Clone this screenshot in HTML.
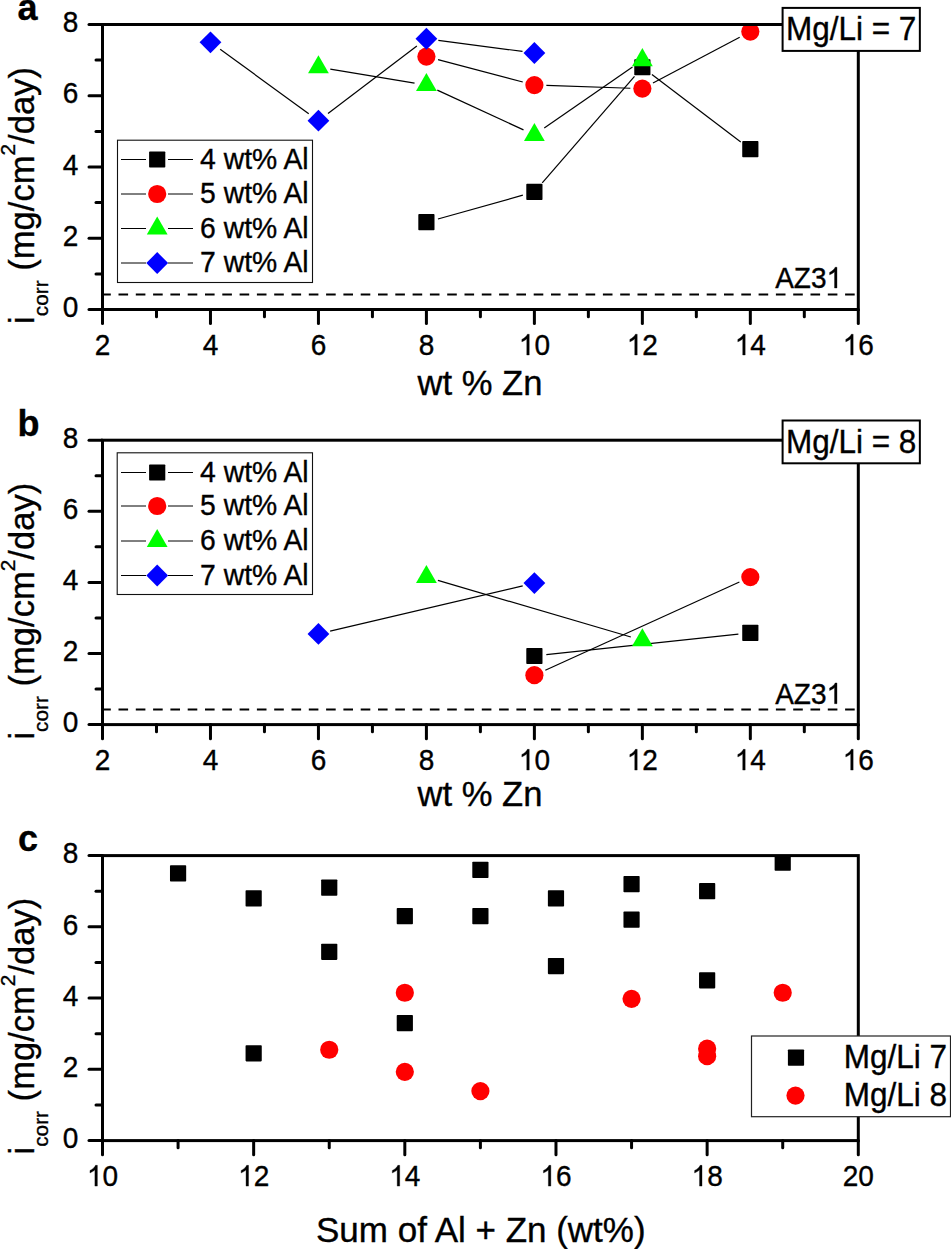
<!DOCTYPE html>
<html><head><meta charset="utf-8"><title>i_corr vs composition</title><style>
html,body{margin:0;padding:0;background:#fff;overflow:hidden;}
svg{display:block;}
text{font-family:"Liberation Sans",sans-serif;fill:#000;stroke:#000;stroke-width:0.35px;}
</style></head><body>
<svg width="951" height="1249" viewBox="0 0 951 1249">
<rect width="951" height="1249" fill="#fff"/>
<g id="panel-a">
<line x1="101.2" y1="294.50" x2="857" y2="294.50" stroke="#000" stroke-width="2" stroke-dasharray="9.6 7.7"/>
<text transform="translate(775.2 288.00) scale(1 1.07)" font-size="28">AZ3&#8199;</text>
<path transform="translate(826.55 288.00) scale(0.01367 -0.01415)" stroke="#000" stroke-width="25" d="M763,0L583,0L583,1147Q518,1085 413,1023Q309,961 223,930L223,1104Q367,1172 475,1267Q583,1362 628,1466L763,1466Z"/>
<clipPath id="clip0"><rect x="102.5" y="24.5" width="755.8" height="285.0"/></clipPath><g clip-path="url(#clip0)">
<g stroke="#000" stroke-width="1.2" fill="none"><line x1="437.97" y1="218.98" x2="522.83" y2="195.18"/><line x1="542.24" y1="182.87" x2="634.50" y2="76.32"/><line x1="651.92" y1="74.50" x2="740.77" y2="141.93"/></g>
<rect x="418.31" y="214.12" width="16.20" height="16.20" rx="0.8" fill="#000"/><rect x="526.29" y="183.84" width="16.20" height="16.20" rx="0.8" fill="#000"/><rect x="634.26" y="59.15" width="16.20" height="16.20" rx="0.8" fill="#000"/><rect x="742.23" y="141.09" width="16.20" height="16.20" rx="0.8" fill="#000"/>
<g stroke="#000" stroke-width="1.2" fill="none"><line x1="438.02" y1="59.63" x2="522.78" y2="82.00"/><line x1="546.38" y1="85.46" x2="630.36" y2="88.23"/><line x1="652.97" y1="83.02" x2="739.72" y2="37.23"/></g>
<circle cx="426.41" cy="56.56" r="9.1" fill="#f00"/><circle cx="534.39" cy="85.06" r="9.1" fill="#f00"/><circle cx="642.36" cy="88.62" r="9.1" fill="#f00"/><circle cx="750.33" cy="31.62" r="9.1" fill="#f00"/>
<g stroke="#000" stroke-width="1.2" fill="none"><line x1="330.28" y1="69.20" x2="414.57" y2="83.11"/><line x1="437.31" y1="90.09" x2="523.49" y2="129.91"/><line x1="544.25" y1="128.10" x2="632.49" y2="66.96"/></g>
<path d="M318.44,55.24L308.04,73.25L328.84,73.25Z" fill="#0f0"/><path d="M426.41,73.05L416.01,91.07L436.81,91.07Z" fill="#0f0"/><path d="M534.39,122.93L523.99,140.94L544.79,140.94Z" fill="#0f0"/><path d="M642.36,48.12L631.96,66.13L652.76,66.13Z" fill="#0f0"/>
<g stroke="#000" stroke-width="1.2" fill="none"><line x1="220.18" y1="49.36" x2="308.73" y2="113.64"/><line x1="328.00" y1="113.43" x2="416.86" y2="46.00"/><line x1="438.31" y1="40.32" x2="522.49" y2="51.43"/></g>
<path d="M210.47,31.41L221.37,42.31L210.47,53.21L199.57,42.31Z" fill="#00f"/><path d="M318.44,109.79L329.34,120.69L318.44,131.59L307.54,120.69Z" fill="#00f"/><path d="M426.41,27.85L437.31,38.75L426.41,49.65L415.51,38.75Z" fill="#00f"/><path d="M534.39,42.10L545.29,53.00L534.39,63.90L523.49,53.00Z" fill="#00f"/>
</g>
<rect x="102.5" y="24.5" width="755.8" height="285.0" fill="none" stroke="#000" stroke-width="3"/>
<g stroke="#000" stroke-width="3" stroke-linecap="round"><line x1="89" y1="309.50" x2="102.5" y2="309.50"/><line x1="96" y1="273.88" x2="102.5" y2="273.88"/><line x1="89" y1="238.25" x2="102.5" y2="238.25"/><line x1="96" y1="202.62" x2="102.5" y2="202.62"/><line x1="89" y1="167.00" x2="102.5" y2="167.00"/><line x1="96" y1="131.38" x2="102.5" y2="131.38"/><line x1="89" y1="95.75" x2="102.5" y2="95.75"/><line x1="96" y1="60.12" x2="102.5" y2="60.12"/><line x1="89" y1="24.50" x2="102.5" y2="24.50"/><line x1="102.50" y1="309.5" x2="102.50" y2="323.60"/><line x1="210.47" y1="309.5" x2="210.47" y2="323.60"/><line x1="318.44" y1="309.5" x2="318.44" y2="323.60"/><line x1="426.41" y1="309.5" x2="426.41" y2="323.60"/><line x1="534.39" y1="309.5" x2="534.39" y2="323.60"/><line x1="642.36" y1="309.5" x2="642.36" y2="323.60"/><line x1="750.33" y1="309.5" x2="750.33" y2="323.60"/><line x1="858.30" y1="309.5" x2="858.30" y2="323.60"/><line x1="156.49" y1="309.5" x2="156.49" y2="316.70"/><line x1="264.46" y1="309.5" x2="264.46" y2="316.70"/><line x1="372.43" y1="309.5" x2="372.43" y2="316.70"/><line x1="480.40" y1="309.5" x2="480.40" y2="316.70"/><line x1="588.37" y1="309.5" x2="588.37" y2="316.70"/><line x1="696.34" y1="309.5" x2="696.34" y2="316.70"/><line x1="804.31" y1="309.5" x2="804.31" y2="316.70"/></g>
<text transform="translate(78.40 317.20) scale(1 1.08)" font-size="28" text-anchor="end">0</text><text transform="translate(78.40 245.95) scale(1 1.08)" font-size="28" text-anchor="end">2</text><text transform="translate(78.40 174.70) scale(1 1.08)" font-size="28" text-anchor="end">4</text><text transform="translate(78.40 103.45) scale(1 1.08)" font-size="28" text-anchor="end">6</text><text transform="translate(78.40 32.20) scale(1 1.08)" font-size="28" text-anchor="end">8</text><text transform="translate(102.50 355.00) scale(1 1.08)" font-size="28" text-anchor="middle">2</text><text transform="translate(210.47 355.00) scale(1 1.08)" font-size="28" text-anchor="middle">4</text><text transform="translate(318.44 355.00) scale(1 1.08)" font-size="28" text-anchor="middle">6</text><text transform="translate(426.41 355.00) scale(1 1.08)" font-size="28" text-anchor="middle">8</text><text transform="translate(534.39 355.00) scale(1 1.08)" font-size="28" text-anchor="middle">&#8199;0</text><path transform="translate(518.81 355.00) scale(0.01367 -0.01415)" stroke="#000" stroke-width="25" d="M763,0L583,0L583,1147Q518,1085 413,1023Q309,961 223,930L223,1104Q367,1172 475,1267Q583,1362 628,1466L763,1466Z"/><text transform="translate(642.36 355.00) scale(1 1.08)" font-size="28" text-anchor="middle">&#8199;2</text><path transform="translate(626.78 355.00) scale(0.01367 -0.01415)" stroke="#000" stroke-width="25" d="M763,0L583,0L583,1147Q518,1085 413,1023Q309,961 223,930L223,1104Q367,1172 475,1267Q583,1362 628,1466L763,1466Z"/><text transform="translate(750.33 355.00) scale(1 1.08)" font-size="28" text-anchor="middle">&#8199;4</text><path transform="translate(734.76 355.00) scale(0.01367 -0.01415)" stroke="#000" stroke-width="25" d="M763,0L583,0L583,1147Q518,1085 413,1023Q309,961 223,930L223,1104Q367,1172 475,1267Q583,1362 628,1466L763,1466Z"/><text transform="translate(858.30 355.00) scale(1 1.08)" font-size="28" text-anchor="middle">&#8199;6</text><path transform="translate(842.73 355.00) scale(0.01367 -0.01415)" stroke="#000" stroke-width="25" d="M763,0L583,0L583,1147Q518,1085 413,1023Q309,961 223,930L223,1104Q367,1172 475,1267Q583,1362 628,1466L763,1466Z"/>
<text transform="translate(33.9 323.9) rotate(-90)" font-size="34.6">i<tspan font-size="20.8" dy="13.7">corr</tspan><tspan dy="-13.7"> (mg/cm</tspan><tspan font-size="20.8" dy="-18.8">2</tspan><tspan dy="18.8">/day)</tspan></text>
<text x="17.5" y="19.9" font-size="36" font-weight="bold">a</text>
</g>
<g id="panel-b">
<line x1="101.2" y1="709.60" x2="857" y2="709.60" stroke="#000" stroke-width="2" stroke-dasharray="9.6 7.7"/>
<text transform="translate(775.2 703.70) scale(1 1.07)" font-size="28">AZ3&#8199;</text>
<path transform="translate(826.55 703.70) scale(0.01367 -0.01415)" stroke="#000" stroke-width="25" d="M763,0L583,0L583,1147Q518,1085 413,1023Q309,961 223,930L223,1104Q367,1172 475,1267Q583,1362 628,1466L763,1466Z"/>
<clipPath id="clip1"><rect x="102.5" y="440.2" width="755.8" height="284.4"/></clipPath><g clip-path="url(#clip1)">
<g stroke="#000" stroke-width="1.2" fill="none"><line x1="546.32" y1="654.71" x2="738.40" y2="634.16"/></g>
<rect x="526.29" y="647.89" width="16.20" height="16.20" rx="0.8" fill="#000"/><rect x="742.23" y="624.78" width="16.20" height="16.20" rx="0.8" fill="#000"/>
<g stroke="#000" stroke-width="1.2" fill="none"><line x1="545.31" y1="670.22" x2="739.40" y2="582.03"/></g>
<circle cx="534.39" cy="675.19" r="9.1" fill="#f00"/><circle cx="750.33" cy="577.07" r="9.1" fill="#f00"/>
<g stroke="#000" stroke-width="1.2" fill="none"><line x1="437.93" y1="580.44" x2="630.84" y2="636.97"/></g>
<path d="M426.41,565.06L416.01,583.07L436.81,583.07Z" fill="#0f0"/><path d="M642.36,628.34L631.96,646.35L652.76,646.35Z" fill="#0f0"/>
<g stroke="#000" stroke-width="1.2" fill="none"><line x1="330.12" y1="631.20" x2="522.71" y2="585.86"/></g>
<path d="M318.44,623.05L329.34,633.95L318.44,644.85L307.54,633.95Z" fill="#00f"/><path d="M534.39,572.21L545.29,583.11L534.39,594.01L523.49,583.11Z" fill="#00f"/>
</g>
<rect x="102.5" y="440.2" width="755.8" height="284.4" fill="none" stroke="#000" stroke-width="3"/>
<g stroke="#000" stroke-width="3" stroke-linecap="round"><line x1="89" y1="724.60" x2="102.5" y2="724.60"/><line x1="96" y1="689.05" x2="102.5" y2="689.05"/><line x1="89" y1="653.50" x2="102.5" y2="653.50"/><line x1="96" y1="617.95" x2="102.5" y2="617.95"/><line x1="89" y1="582.40" x2="102.5" y2="582.40"/><line x1="96" y1="546.85" x2="102.5" y2="546.85"/><line x1="89" y1="511.30" x2="102.5" y2="511.30"/><line x1="96" y1="475.75" x2="102.5" y2="475.75"/><line x1="89" y1="440.20" x2="102.5" y2="440.20"/><line x1="102.50" y1="724.6" x2="102.50" y2="738.70"/><line x1="210.47" y1="724.6" x2="210.47" y2="738.70"/><line x1="318.44" y1="724.6" x2="318.44" y2="738.70"/><line x1="426.41" y1="724.6" x2="426.41" y2="738.70"/><line x1="534.39" y1="724.6" x2="534.39" y2="738.70"/><line x1="642.36" y1="724.6" x2="642.36" y2="738.70"/><line x1="750.33" y1="724.6" x2="750.33" y2="738.70"/><line x1="858.30" y1="724.6" x2="858.30" y2="738.70"/><line x1="156.49" y1="724.6" x2="156.49" y2="731.80"/><line x1="264.46" y1="724.6" x2="264.46" y2="731.80"/><line x1="372.43" y1="724.6" x2="372.43" y2="731.80"/><line x1="480.40" y1="724.6" x2="480.40" y2="731.80"/><line x1="588.37" y1="724.6" x2="588.37" y2="731.80"/><line x1="696.34" y1="724.6" x2="696.34" y2="731.80"/><line x1="804.31" y1="724.6" x2="804.31" y2="731.80"/></g>
<text transform="translate(78.40 732.30) scale(1 1.08)" font-size="28" text-anchor="end">0</text><text transform="translate(78.40 661.20) scale(1 1.08)" font-size="28" text-anchor="end">2</text><text transform="translate(78.40 590.10) scale(1 1.08)" font-size="28" text-anchor="end">4</text><text transform="translate(78.40 519.00) scale(1 1.08)" font-size="28" text-anchor="end">6</text><text transform="translate(78.40 447.90) scale(1 1.08)" font-size="28" text-anchor="end">8</text><text transform="translate(102.50 770.10) scale(1 1.08)" font-size="28" text-anchor="middle">2</text><text transform="translate(210.47 770.10) scale(1 1.08)" font-size="28" text-anchor="middle">4</text><text transform="translate(318.44 770.10) scale(1 1.08)" font-size="28" text-anchor="middle">6</text><text transform="translate(426.41 770.10) scale(1 1.08)" font-size="28" text-anchor="middle">8</text><text transform="translate(534.39 770.10) scale(1 1.08)" font-size="28" text-anchor="middle">&#8199;0</text><path transform="translate(518.81 770.10) scale(0.01367 -0.01415)" stroke="#000" stroke-width="25" d="M763,0L583,0L583,1147Q518,1085 413,1023Q309,961 223,930L223,1104Q367,1172 475,1267Q583,1362 628,1466L763,1466Z"/><text transform="translate(642.36 770.10) scale(1 1.08)" font-size="28" text-anchor="middle">&#8199;2</text><path transform="translate(626.78 770.10) scale(0.01367 -0.01415)" stroke="#000" stroke-width="25" d="M763,0L583,0L583,1147Q518,1085 413,1023Q309,961 223,930L223,1104Q367,1172 475,1267Q583,1362 628,1466L763,1466Z"/><text transform="translate(750.33 770.10) scale(1 1.08)" font-size="28" text-anchor="middle">&#8199;4</text><path transform="translate(734.76 770.10) scale(0.01367 -0.01415)" stroke="#000" stroke-width="25" d="M763,0L583,0L583,1147Q518,1085 413,1023Q309,961 223,930L223,1104Q367,1172 475,1267Q583,1362 628,1466L763,1466Z"/><text transform="translate(858.30 770.10) scale(1 1.08)" font-size="28" text-anchor="middle">&#8199;6</text><path transform="translate(842.73 770.10) scale(0.01367 -0.01415)" stroke="#000" stroke-width="25" d="M763,0L583,0L583,1147Q518,1085 413,1023Q309,961 223,930L223,1104Q367,1172 475,1267Q583,1362 628,1466L763,1466Z"/>
<text transform="translate(33.9 739.6) rotate(-90)" font-size="34.6">i<tspan font-size="20.8" dy="13.7">corr</tspan><tspan dy="-13.7"> (mg/cm</tspan><tspan font-size="20.8" dy="-18.8">2</tspan><tspan dy="18.8">/day)</tspan></text>
<text x="17.5" y="435.6" font-size="36" font-weight="bold">b</text>
</g>
<g id="panel-c">
<clipPath id="clip2"><rect x="102.5" y="855.6" width="755.8" height="285.0"/></clipPath><g clip-path="url(#clip2)">
<rect x="245.56" y="1045.22" width="16.20" height="16.20" rx="0.8" fill="#000"/><rect x="396.72" y="1014.94" width="16.20" height="16.20" rx="0.8" fill="#000"/><rect x="547.88" y="890.25" width="16.20" height="16.20" rx="0.8" fill="#000"/><rect x="699.04" y="972.19" width="16.20" height="16.20" rx="0.8" fill="#000"/><rect x="321.14" y="879.56" width="16.20" height="16.20" rx="0.8" fill="#000"/><rect x="472.30" y="908.06" width="16.20" height="16.20" rx="0.8" fill="#000"/><rect x="623.46" y="911.62" width="16.20" height="16.20" rx="0.8" fill="#000"/><rect x="774.62" y="854.62" width="16.20" height="16.20" rx="0.8" fill="#000"/><rect x="245.56" y="890.25" width="16.20" height="16.20" rx="0.8" fill="#000"/><rect x="396.72" y="908.06" width="16.20" height="16.20" rx="0.8" fill="#000"/><rect x="547.88" y="957.94" width="16.20" height="16.20" rx="0.8" fill="#000"/><rect x="699.04" y="883.12" width="16.20" height="16.20" rx="0.8" fill="#000"/><rect x="169.98" y="865.31" width="16.20" height="16.20" rx="0.8" fill="#000"/><rect x="321.14" y="943.69" width="16.20" height="16.20" rx="0.8" fill="#000"/><rect x="472.30" y="861.75" width="16.20" height="16.20" rx="0.8" fill="#000"/><rect x="623.46" y="876.00" width="16.20" height="16.20" rx="0.8" fill="#000"/>
<circle cx="404.82" cy="1071.84" r="9.1" fill="#f00"/><circle cx="707.14" cy="1048.69" r="9.1" fill="#f00"/><circle cx="480.40" cy="1091.08" r="9.1" fill="#f00"/><circle cx="782.72" cy="992.76" r="9.1" fill="#f00"/><circle cx="404.82" cy="992.76" r="9.1" fill="#f00"/><circle cx="707.14" cy="1056.17" r="9.1" fill="#f00"/><circle cx="329.24" cy="1049.76" r="9.1" fill="#f00"/><circle cx="631.56" cy="998.81" r="9.1" fill="#f00"/>
</g>
<rect x="102.5" y="855.6" width="755.8" height="285.0" fill="none" stroke="#000" stroke-width="3"/>
<g stroke="#000" stroke-width="3" stroke-linecap="round"><line x1="89" y1="1140.60" x2="102.5" y2="1140.60"/><line x1="96" y1="1104.97" x2="102.5" y2="1104.97"/><line x1="89" y1="1069.35" x2="102.5" y2="1069.35"/><line x1="96" y1="1033.72" x2="102.5" y2="1033.72"/><line x1="89" y1="998.10" x2="102.5" y2="998.10"/><line x1="96" y1="962.47" x2="102.5" y2="962.47"/><line x1="89" y1="926.85" x2="102.5" y2="926.85"/><line x1="96" y1="891.23" x2="102.5" y2="891.23"/><line x1="89" y1="855.60" x2="102.5" y2="855.60"/><line x1="102.50" y1="1140.6" x2="102.50" y2="1154.70"/><line x1="253.66" y1="1140.6" x2="253.66" y2="1154.70"/><line x1="404.82" y1="1140.6" x2="404.82" y2="1154.70"/><line x1="555.98" y1="1140.6" x2="555.98" y2="1154.70"/><line x1="707.14" y1="1140.6" x2="707.14" y2="1154.70"/><line x1="858.30" y1="1140.6" x2="858.30" y2="1154.70"/><line x1="178.08" y1="1140.6" x2="178.08" y2="1147.80"/><line x1="329.24" y1="1140.6" x2="329.24" y2="1147.80"/><line x1="480.40" y1="1140.6" x2="480.40" y2="1147.80"/><line x1="631.56" y1="1140.6" x2="631.56" y2="1147.80"/><line x1="782.72" y1="1140.6" x2="782.72" y2="1147.80"/></g>
<text transform="translate(78.40 1148.30) scale(1 1.08)" font-size="28" text-anchor="end">0</text><text transform="translate(78.40 1077.05) scale(1 1.08)" font-size="28" text-anchor="end">2</text><text transform="translate(78.40 1005.80) scale(1 1.08)" font-size="28" text-anchor="end">4</text><text transform="translate(78.40 934.55) scale(1 1.08)" font-size="28" text-anchor="end">6</text><text transform="translate(78.40 863.30) scale(1 1.08)" font-size="28" text-anchor="end">8</text><text transform="translate(102.50 1186.10) scale(1 1.08)" font-size="28" text-anchor="middle">&#8199;0</text><path transform="translate(86.93 1186.10) scale(0.01367 -0.01415)" stroke="#000" stroke-width="25" d="M763,0L583,0L583,1147Q518,1085 413,1023Q309,961 223,930L223,1104Q367,1172 475,1267Q583,1362 628,1466L763,1466Z"/><text transform="translate(253.66 1186.10) scale(1 1.08)" font-size="28" text-anchor="middle">&#8199;2</text><path transform="translate(238.09 1186.10) scale(0.01367 -0.01415)" stroke="#000" stroke-width="25" d="M763,0L583,0L583,1147Q518,1085 413,1023Q309,961 223,930L223,1104Q367,1172 475,1267Q583,1362 628,1466L763,1466Z"/><text transform="translate(404.82 1186.10) scale(1 1.08)" font-size="28" text-anchor="middle">&#8199;4</text><path transform="translate(389.25 1186.10) scale(0.01367 -0.01415)" stroke="#000" stroke-width="25" d="M763,0L583,0L583,1147Q518,1085 413,1023Q309,961 223,930L223,1104Q367,1172 475,1267Q583,1362 628,1466L763,1466Z"/><text transform="translate(555.98 1186.10) scale(1 1.08)" font-size="28" text-anchor="middle">&#8199;6</text><path transform="translate(540.41 1186.10) scale(0.01367 -0.01415)" stroke="#000" stroke-width="25" d="M763,0L583,0L583,1147Q518,1085 413,1023Q309,961 223,930L223,1104Q367,1172 475,1267Q583,1362 628,1466L763,1466Z"/><text transform="translate(707.14 1186.10) scale(1 1.08)" font-size="28" text-anchor="middle">&#8199;8</text><path transform="translate(691.57 1186.10) scale(0.01367 -0.01415)" stroke="#000" stroke-width="25" d="M763,0L583,0L583,1147Q518,1085 413,1023Q309,961 223,930L223,1104Q367,1172 475,1267Q583,1362 628,1466L763,1466Z"/><text transform="translate(858.30 1186.10) scale(1 1.08)" font-size="28" text-anchor="middle">20</text>
<text transform="translate(33.9 1154.5) rotate(-90)" font-size="34.6">i<tspan font-size="20.8" dy="13.7">corr</tspan><tspan dy="-13.7"> (mg/cm</tspan><tspan font-size="20.8" dy="-18.8">2</tspan><tspan dy="18.8">/day)</tspan></text>
<text x="18.0" y="851.0" font-size="36" font-weight="bold">c</text>
</g>
<text transform="translate(480.00 394.60) scale(1 1.03)" font-size="34.6" text-anchor="middle">wt % Zn</text>
<text transform="translate(480.00 805.70) scale(1 1.03)" font-size="34.6" text-anchor="middle">wt % Zn</text>
<text transform="translate(480.80 1241.90) scale(1 1.02)" font-size="35" text-anchor="middle">Sum of Al + Zn (wt%)</text>
<rect x="782.6" y="7.9" width="137.25" height="43.00" fill="#fff" stroke="#000" stroke-width="2"/>
<text transform="translate(786.00 40.40) scale(1 1.05)" font-size="31.5">Mg/Li = 7</text>
<rect x="782.6" y="420.5" width="137.25" height="42.80" fill="#fff" stroke="#000" stroke-width="2"/>
<text transform="translate(786.00 452.90) scale(1 1.05)" font-size="31.5">Mg/Li = 8</text>
<rect x="117.5" y="140.2" width="195.0" height="142.3" fill="#fff" stroke="#111" stroke-width="1.1"/>
<g stroke="#000" stroke-width="1"><line x1="121" y1="159.50" x2="146" y2="159.50"/><line x1="168" y1="159.50" x2="193" y2="159.50"/></g>
<rect x="149.10" y="151.40" width="16.20" height="16.20" rx="0.8" fill="#000"/>
<text transform="translate(200.10 168.90) scale(1 1.03)" font-size="28.3">4 wt% Al</text>
<g stroke="#000" stroke-width="1"><line x1="121" y1="194.00" x2="146" y2="194.00"/><line x1="168" y1="194.00" x2="193" y2="194.00"/></g>
<circle cx="157.20" cy="194.00" r="9.1" fill="#f00"/>
<text transform="translate(200.10 203.40) scale(1 1.03)" font-size="28.3">5 wt% Al</text>
<g stroke="#000" stroke-width="1"><line x1="121" y1="228.50" x2="146" y2="228.50"/><line x1="168" y1="228.50" x2="193" y2="228.50"/></g>
<path d="M157.20,216.49L146.80,234.50L167.60,234.50Z" fill="#0f0"/>
<text transform="translate(200.10 237.90) scale(1 1.03)" font-size="28.3">6 wt% Al</text>
<g stroke="#000" stroke-width="1"><line x1="121" y1="263.00" x2="146" y2="263.00"/><line x1="168" y1="263.00" x2="193" y2="263.00"/></g>
<path d="M157.20,252.10L168.10,263.00L157.20,273.90L146.30,263.00Z" fill="#00f"/>
<text transform="translate(200.10 272.40) scale(1 1.03)" font-size="28.3">7 wt% Al</text>
<rect x="117.2" y="452.8" width="195.3" height="141.7" fill="#fff" stroke="#111" stroke-width="1.1"/>
<g stroke="#000" stroke-width="1"><line x1="121" y1="472.50" x2="146" y2="472.50"/><line x1="168" y1="472.50" x2="193" y2="472.50"/></g>
<rect x="149.10" y="464.40" width="16.20" height="16.20" rx="0.8" fill="#000"/>
<text transform="translate(200.10 481.90) scale(1 1.03)" font-size="28.3">4 wt% Al</text>
<g stroke="#000" stroke-width="1"><line x1="121" y1="506.00" x2="146" y2="506.00"/><line x1="168" y1="506.00" x2="193" y2="506.00"/></g>
<circle cx="157.20" cy="506.00" r="9.1" fill="#f00"/>
<text transform="translate(200.10 515.40) scale(1 1.03)" font-size="28.3">5 wt% Al</text>
<g stroke="#000" stroke-width="1"><line x1="121" y1="541.00" x2="146" y2="541.00"/><line x1="168" y1="541.00" x2="193" y2="541.00"/></g>
<path d="M157.20,528.99L146.80,547.00L167.60,547.00Z" fill="#0f0"/>
<text transform="translate(200.10 550.40) scale(1 1.03)" font-size="28.3">6 wt% Al</text>
<g stroke="#000" stroke-width="1"><line x1="121" y1="575.50" x2="146" y2="575.50"/><line x1="168" y1="575.50" x2="193" y2="575.50"/></g>
<path d="M157.20,564.60L168.10,575.50L157.20,586.40L146.30,575.50Z" fill="#00f"/>
<text transform="translate(200.10 584.90) scale(1 1.03)" font-size="28.3">7 wt% Al</text>
<rect x="751.5" y="1036" width="199" height="80.7" fill="#fff" stroke="#222" stroke-width="1.2"/>
<rect x="787.90" y="1049.50" width="16.20" height="16.20" rx="0.8" fill="#000"/>
<circle cx="795.50" cy="1095.60" r="9.1" fill="#f00"/>
<text transform="translate(843.70 1067.60) scale(1 1.04)" font-size="31.5">Mg/Li 7</text>
<text transform="translate(843.70 1106.00) scale(1 1.04)" font-size="31.5">Mg/Li 8</text>
</svg></body></html>
